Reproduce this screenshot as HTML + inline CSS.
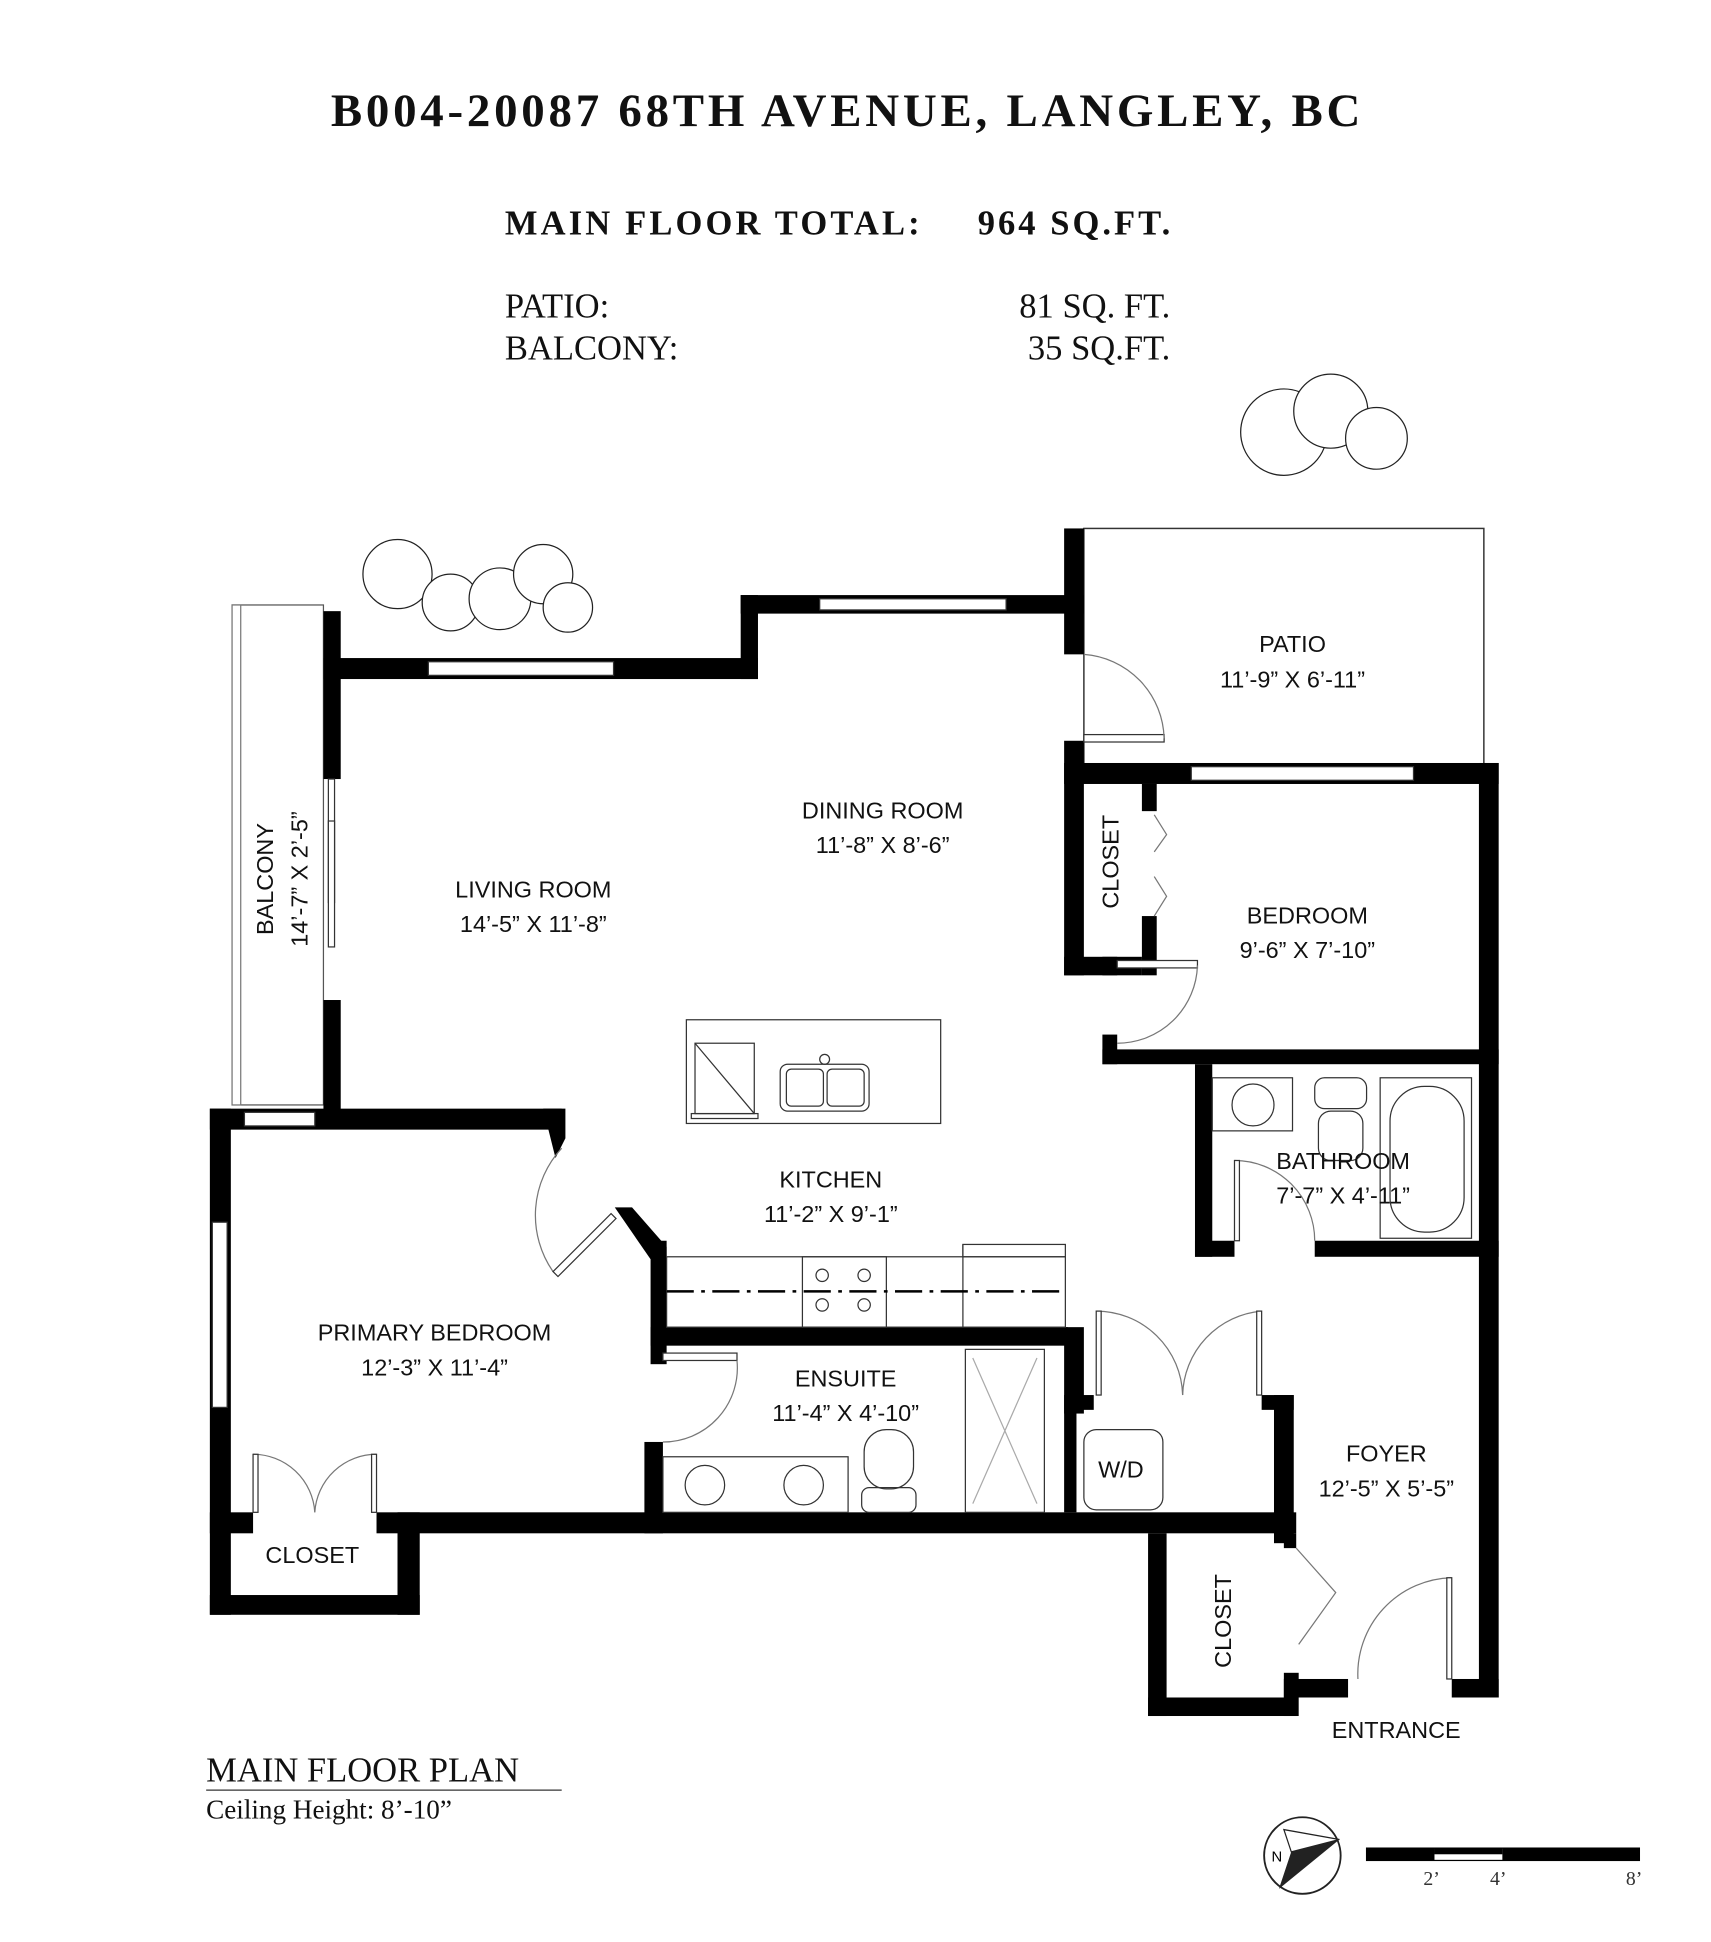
<!DOCTYPE html>
<html><head><meta charset="utf-8"><style>
html,body{margin:0;padding:0;background:#fff}
svg{display:block}
.s{font-family:"Liberation Sans Narrow","Liberation Sans",sans-serif;font-size:19px;fill:#111;text-anchor:middle}
.sr{font-family:"Liberation Serif",serif;fill:#111}
</style></head><body>
<svg width="1711" height="1942" viewBox="0 0 1386 1573" xmlns="http://www.w3.org/2000/svg">
<rect width="1386" height="1573" fill="#fff"/>
<text class="sr" x="685" y="102" font-size="38" font-weight="bold" text-anchor="middle" textLength="834">B004-20087 68TH AVENUE, LANGLEY, BC</text>
<text class="sr" x="409" y="190" font-size="28" font-weight="bold" textLength="336">MAIN FLOOR TOTAL:</text>
<text class="sr" x="792" y="190" font-size="28" font-weight="bold" textLength="156">964 SQ.FT.</text>
<text class="sr" x="409" y="257" font-size="28">PATIO:</text>
<text class="sr" x="948" y="257" font-size="28" text-anchor="end">81 SQ. FT.</text>
<text class="sr" x="409" y="291" font-size="28">BALCONY:</text>
<text class="sr" x="948" y="291" font-size="28" text-anchor="end">35 SQ.FT.</text>

<!-- trees -->
<g fill="#fff" stroke="#222" stroke-width="1">
<circle cx="322" cy="465" r="28"/><circle cx="365" cy="488" r="23"/><circle cx="405" cy="485" r="25"/><circle cx="440" cy="465" r="24"/><circle cx="460" cy="492" r="20"/>
<circle cx="1040" cy="350" r="35"/><circle cx="1078" cy="333" r="30"/><circle cx="1115" cy="355" r="25"/>
</g>

<!-- patio & balcony outlines -->
<rect x="878" y="428" width="324" height="192" fill="none" stroke="#333" stroke-width="1.2"/>
<rect x="188" y="490" width="74" height="405" fill="none" stroke="#555" stroke-width="1"/>
<rect x="188" y="490" width="7" height="405" fill="#fff" stroke="#777" stroke-width="1"/>

<g fill="#000">
<rect x="262" y="495" width="14" height="136"/>
<rect x="262" y="533" width="352" height="17"/>
<rect x="600" y="482" width="14" height="68"/>
<rect x="600" y="482" width="278" height="15"/>
<rect x="862" y="428" width="16" height="102"/>
<rect x="862" y="600" width="16" height="190"/>
<rect x="862" y="618" width="352" height="17"/>
<rect x="1198" y="618" width="16" height="757"/>
<rect x="862" y="775" width="63" height="15"/>
<rect x="925" y="635" width="12" height="22"/>
<rect x="925" y="742" width="12" height="48"/>
<rect x="893" y="775" width="12" height="15"/>
<rect x="893" y="850" width="321" height="12"/>
<rect x="893" y="838" width="12" height="24"/>
<rect x="968" y="862" width="14" height="156"/>
<rect x="968" y="1005" width="32" height="13"/>
<rect x="1065" y="1005" width="149" height="13"/>
<rect x="262" y="810" width="14" height="100"/>
<rect x="170" y="898" width="285" height="17"/>
<polygon points="440,898 458,898 458,922 450,938"/>
<rect x="170" y="898" width="17" height="410"/>
<polygon points="498,978 512,978 540,1010 540,1020 527,1020"/>
<rect x="527" y="1005" width="13" height="100"/>
<rect x="527" y="1075" width="338" height="15"/>
<rect x="522" y="1168" width="15" height="74"/>
<rect x="305" y="1225" width="745" height="17"/>
<rect x="170" y="1225" width="35" height="17"/>
<rect x="170" y="1292" width="170" height="16"/>
<rect x="322" y="1225" width="18" height="83"/>
<rect x="862" y="1075" width="16" height="70"/>
<rect x="862" y="1130" width="24" height="12"/>
<rect x="1032" y="1130" width="16" height="120"/>
<rect x="1022" y="1130" width="26" height="12"/>
<rect x="930" y="1242" width="15" height="148"/>
<rect x="930" y="1375" width="120" height="15"/>
<rect x="1040" y="1355" width="12" height="35"/>
<rect x="1040" y="1360" width="52" height="15"/>
<rect x="1176" y="1360" width="38" height="15"/>
<rect x="1040" y="1242" width="10" height="12"/>
<rect x="862" y="1142" width="10" height="83"/>
</g>

<!-- windows -->
<g fill="#fff" stroke="#333" stroke-width="1">
<rect x="347" y="536" width="150" height="11"/>
<rect x="664" y="485" width="151" height="9"/>
<rect x="965" y="621" width="180" height="11"/>
<rect x="198" y="901" width="57" height="11"/>
<rect x="172" y="990" width="12" height="150"/>
<rect x="266" y="631" width="5" height="100"/>
<rect x="266" y="665" width="5" height="102"/>
<rect x="878" y="595" width="65" height="6"/>
<rect x="905" y="778" width="65" height="6"/>
<rect x="537" y="1096" width="60" height="6"/>
</g>

<!-- door arcs -->
<g fill="none" stroke="#777" stroke-width="1">
<path d="M878 530 A70 70 0 0 1 943 598"/>
<path d="M905 845 A65 65 0 0 0 970 782"/>
<path d="M455 930 A80 80 0 0 0 448 1030"/>
<path d="M537 1168 A60 60 0 0 0 597 1102"/>
<path d="M1000 940 A65 65 0 0 1 1065 1005"/>
<path d="M888 1062 A70 70 0 0 1 958 1130"/><path d="M1022 1062 A70 70 0 0 0 958 1130"/>
<path d="M205 1178 A50 50 0 0 1 255 1225"/><path d="M305 1178 A50 50 0 0 0 255 1225"/>
<path d="M1100 1360 A78 78 0 0 1 1176 1278"/>
<path d="M935 660 L945 676 L935 690"/><path d="M935 710 L945 726 L935 742"/>
<path d="M1050 1254 L1082 1290 L1052 1332"/>
</g>
<g fill="#fff" stroke="#333" stroke-width="1">
<rect x="888" y="1062" width="4" height="68"/><rect x="1018" y="1062" width="4" height="68"/>
<rect x="205" y="1178" width="4" height="47"/><rect x="301" y="1178" width="4" height="47"/>
<rect x="1172" y="1278" width="4" height="82"/>
<rect x="1000" y="940" width="4" height="65"/>
<polygon points="448,1030 495,983 499,987 452,1034"/>
</g>

<g fill="none" stroke="#333" stroke-width="1">
<rect x="556" y="826" width="206" height="84"/>
<rect x="563" y="845" width="48" height="57"/><line x1="563" y1="845" x2="611" y2="902"/>
<rect x="560" y="902" width="54" height="4"/>
<rect x="632" y="862" width="72" height="38" rx="6"/>
<rect x="637" y="866" width="30" height="30" rx="4"/><rect x="670" y="866" width="30" height="30" rx="4"/>
<circle cx="668" cy="858" r="4"/>
<rect x="540" y="1018" width="323" height="57"/>
<rect x="650" y="1018" width="68" height="57"/>
<circle cx="666" cy="1033" r="5"/><circle cx="700" cy="1033" r="5"/><circle cx="666" cy="1057" r="5"/><circle cx="700" cy="1057" r="5"/>
<line x1="780" y1="1008" x2="780" y2="1075"/><rect x="780" y="1008" width="83" height="10"/>
<line x1="540" y1="1046" x2="863" y2="1046" stroke="#000" stroke-width="2" stroke-dasharray="22,6,3,6"/>
<rect x="982" y="873" width="65" height="43"/><circle cx="1015" cy="895" r="17"/>
<rect x="1065" y="873" width="42" height="25" rx="8"/><rect x="1068" y="900" width="36" height="40" rx="10"/>
<rect x="1118" y="873" width="74" height="130"/><rect x="1126" y="880" width="60" height="118" rx="28"/>
<rect x="537" y="1180" width="150" height="45"/>
<circle cx="571" cy="1203" r="16"/><circle cx="651" cy="1203" r="16"/>
<rect x="700" y="1158" width="40" height="48" rx="18"/><rect x="698" y="1205" width="44" height="20" rx="6"/>
<rect x="782" y="1093" width="64" height="132"/>
<path d="M788 1100 L840 1218 M840 1100 L788 1218" stroke="#aaa"/>
<rect x="878" y="1158" width="64" height="65" rx="10"/>
</g>

<text class="s" x="1047" y="528">PATIO</text>
<text class="s" x="1047" y="557">11’-9” X 6’-11”</text>
<text class="s" x="715" y="663">DINING ROOM</text>
<text class="s" x="715" y="691">11’-8” X 8’-6”</text>
<text class="s" x="432" y="727">LIVING ROOM</text>
<text class="s" x="432" y="755">14’-5” X 11’-8”</text>
<text class="s" x="1059" y="748">BEDROOM</text>
<text class="s" x="1059" y="776">9’-6” X 7’-10”</text>
<text class="s" x="673" y="962">KITCHEN</text>
<text class="s" x="673" y="990">11’-2” X 9’-1”</text>
<text class="s" x="1088" y="947">BATHROOM</text>
<text class="s" x="1088" y="975">7’-7” X 4’-11”</text>
<text class="s" x="352" y="1086">PRIMARY BEDROOM</text>
<text class="s" x="352" y="1114">12’-3” X 11’-4”</text>
<text class="s" x="685" y="1123">ENSUITE</text>
<text class="s" x="685" y="1151">11’-4” X 4’-10”</text>
<text class="s" x="1123" y="1184">FOYER</text>
<text class="s" x="1123" y="1212">12’-5” X 5’-5”</text>
<text class="s" x="1131" y="1408">ENTRANCE</text>
<text class="s" x="253" y="1266" font-size="15">CLOSET</text>
<text class="s" x="908" y="1197" font-size="20">W/D</text>
<text class="s" font-size="15" transform="translate(906,698) rotate(-90)">CLOSET</text>
<text class="s" font-size="15" transform="translate(997,1313) rotate(-90)">CLOSET</text>
<text class="s" transform="translate(221,712) rotate(-90)">BALCONY</text>
<text class="s" transform="translate(249,712) rotate(-90)">14’-7” X 2’-5”</text>

<text class="sr" x="167" y="1443" font-size="28">MAIN FLOOR PLAN</text>
<line x1="167" y1="1450" x2="455" y2="1450" stroke="#333" stroke-width="1"/>
<text class="sr" x="167" y="1473" font-size="22">Ceiling Height: 8’-10”</text>

<circle cx="1055" cy="1503" r="31" fill="none" stroke="#222" stroke-width="1.5"/>
<polygon points="1085,1490 1036,1530 1046,1500" fill="#222"/>
<polygon points="1085,1490 1046,1500 1040,1482" fill="#fff" stroke="#222"/>
<text x="1030" y="1508" font-family="Liberation Sans,sans-serif" font-size="12">N</text>
<rect x="1107" y="1497" width="221" height="10" fill="#fff" stroke="#000"/>
<rect x="1107" y="1497" width="55" height="10" fill="#000"/>
<rect x="1217" y="1497" width="111" height="10" fill="#000"/>
<rect x="1162" y="1497" width="55" height="5" fill="#000"/>
<g font-family="Liberation Serif,serif" font-size="16" fill="#333"><text x="1153" y="1527">2’</text><text x="1207" y="1527">4’</text><text x="1317" y="1527">8’</text></g>
</svg>
</body></html>
